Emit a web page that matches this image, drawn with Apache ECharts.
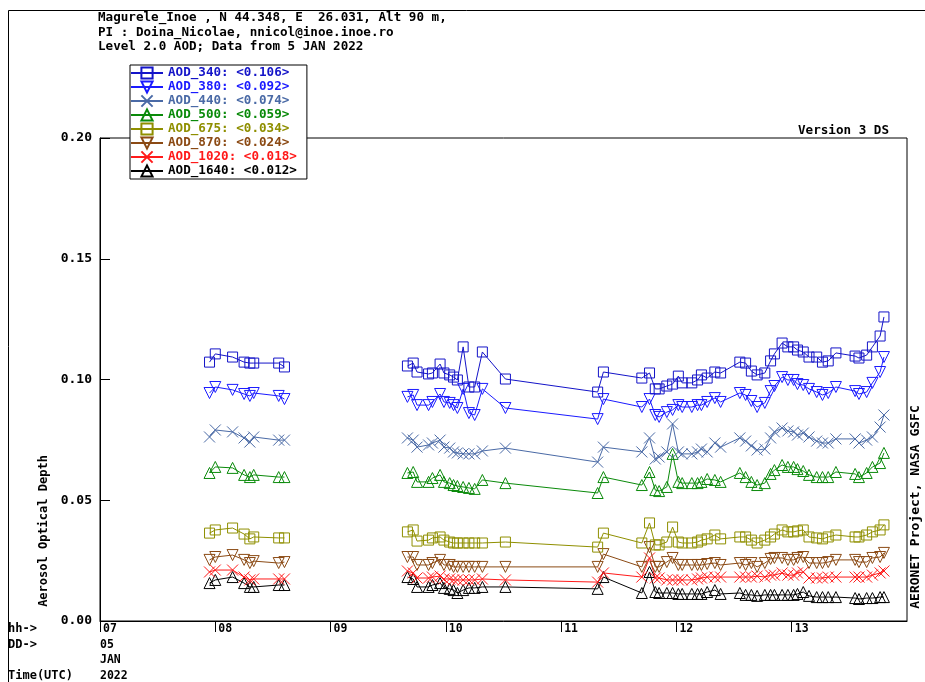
<!DOCTYPE html>
<html><head><meta charset="utf-8">
<script src="https://cdn.jsdelivr.net/npm/echarts@6/dist/echarts.min.js"></script>
<style>html,body{margin:0;padding:0;background:#fff}#c{width:925px;height:682px}</style>
</head><body><div id="c"></div>
<script>
// Measurement times (UTC, 5 JAN 2022)
const times = [
 "07:57","08:00","08:09","08:15","08:18","08:20","08:33","08:36",
 "09:40","09:43","09:45","09:51","09:53","09:57","09:59","10:02","10:04","10:06","10:09","10:12","10:15","10:19","10:31","11:19","11:22",
 "11:42","11:46","11:49","11:51","11:55","11:58","12:01","12:03","12:08","12:11","12:13","12:16","12:20","12:23","12:33","12:36","12:39","12:42","12:46","12:49","12:51","12:55","12:58","13:01","13:03","13:06","13:09","13:13","13:16","13:19","13:23","13:33","13:35","13:39","13:42","13:46","13:48"
];
const aod340 = [
 0.1072,0.1106,0.1093,0.1072,0.1068,0.1068,0.1068,0.1052,
 0.1056,0.1068,0.1031,0.1023,0.1027,0.1064,0.1027,0.1019,0.1010,0.0998,0.1135,0.0969,0.0969,0.1114,0.1002,0.0948,0.1031,
 0.1006,0.1027,0.0961,0.0961,0.0973,0.0981,0.1014,0.0986,0.0986,0.0998,0.1019,0.1006,0.1031,0.1027,0.1072,0.1068,0.1035,0.1019,0.1027,0.1077,0.1106,0.1151,0.1135,0.1135,0.1122,0.1114,0.1093,0.1093,0.1072,0.1077,0.1110,0.1097,0.1089,0.1101,0.1135,0.1180,0.1259
];
const aod380 = [
 0.0944,0.0969,0.0957,0.0940,0.0932,0.0944,0.0932,0.0919,
 0.0928,0.0936,0.0894,0.0894,0.0907,0.0940,0.0907,0.0903,0.0894,0.0882,0.0961,0.0861,0.0853,0.0961,0.0882,0.0836,0.0919,
 0.0886,0.0919,0.0853,0.0845,0.0865,0.0874,0.0894,0.0886,0.0886,0.0894,0.0894,0.0907,0.0923,0.0907,0.0944,0.0936,0.0911,0.0886,0.0903,0.0952,0.0973,0.1010,0.0998,0.0998,0.0981,0.0977,0.0961,0.0948,0.0936,0.0944,0.0969,0.0952,0.0940,0.0948,0.0986,0.1031,0.1093
];
const aod440 = [
 0.0762,0.0791,0.0783,0.0758,0.0741,0.0762,0.0749,0.0749,
 0.0758,0.0749,0.0720,0.0729,0.0737,0.0749,0.0720,0.0716,0.0700,0.0696,0.0692,0.0692,0.0692,0.0704,0.0716,0.0658,0.0720,
 0.0700,0.0758,0.0671,0.0679,0.0700,0.0816,0.0700,0.0692,0.0692,0.0700,0.0712,0.0700,0.0737,0.0720,0.0758,0.0745,0.0725,0.0708,0.0712,0.0758,0.0783,0.0799,0.0787,0.0783,0.0770,0.0778,0.0762,0.0745,0.0737,0.0737,0.0754,0.0754,0.0737,0.0749,0.0762,0.0803,0.0853
];
const aod500 = [
 0.0613,0.0638,0.0634,0.0605,0.0596,0.0605,0.0596,0.0596,
 0.0613,0.0617,0.0576,0.0576,0.0592,0.0605,0.0576,0.0571,0.0563,0.0559,0.0555,0.0551,0.0547,0.0584,0.0571,0.0530,0.0596,
 0.0563,0.0617,0.0542,0.0538,0.0555,0.0692,0.0576,0.0571,0.0571,0.0571,0.0576,0.0588,0.0584,0.0576,0.0613,0.0596,0.0576,0.0563,0.0571,0.0609,0.0625,0.0646,0.0638,0.0638,0.0629,0.0621,0.0605,0.0596,0.0596,0.0596,0.0617,0.0609,0.0596,0.0613,0.0638,0.0654,0.0696
];
const aod675 = [
 0.0364,0.0377,0.0385,0.0360,0.0340,0.0348,0.0344,0.0344,
 0.0369,0.0377,0.0331,0.0335,0.0344,0.0348,0.0335,0.0327,0.0323,0.0323,0.0323,0.0323,0.0323,0.0323,0.0327,0.0306,0.0364,
 0.0323,0.0406,0.0315,0.0315,0.0327,0.0389,0.0327,0.0323,0.0323,0.0327,0.0335,0.0340,0.0356,0.0340,0.0348,0.0348,0.0335,0.0323,0.0335,0.0348,0.0360,0.0377,0.0369,0.0369,0.0373,0.0377,0.0348,0.0344,0.0340,0.0348,0.0356,0.0348,0.0348,0.0356,0.0369,0.0377,0.0398
];
const aod870 = [
 0.0253,0.0265,0.0273,0.0253,0.0240,0.0248,0.0240,0.0244,
 0.0265,0.0265,0.0232,0.0232,0.0240,0.0253,0.0232,0.0232,0.0224,0.0224,0.0224,0.0224,0.0224,0.0224,0.0224,0.0224,0.0277,
 0.0224,0.0306,0.0224,0.0224,0.0244,0.0261,0.0232,0.0232,0.0232,0.0232,0.0232,0.0236,0.0240,0.0232,0.0240,0.0232,0.0240,0.0224,0.0240,0.0257,0.0261,0.0261,0.0253,0.0253,0.0261,0.0265,0.0240,0.0240,0.0240,0.0244,0.0253,0.0253,0.0244,0.0244,0.0261,0.0265,0.0282
];
const aod1020 = [
 0.0203,0.0211,0.0211,0.0182,0.0170,0.0174,0.0174,0.0174,
 0.0207,0.0199,0.0178,0.0178,0.0182,0.0186,0.0174,0.0174,0.0170,0.0170,0.0170,0.0170,0.0170,0.0174,0.0170,0.0161,0.0199,
 0.0182,0.0261,0.0178,0.0178,0.0170,0.0170,0.0170,0.0170,0.0170,0.0174,0.0178,0.0182,0.0182,0.0182,0.0182,0.0182,0.0182,0.0186,0.0182,0.0190,0.0190,0.0199,0.0190,0.0190,0.0199,0.0203,0.0178,0.0178,0.0178,0.0182,0.0182,0.0182,0.0182,0.0182,0.0190,0.0199,0.0207
];
const aod1640 = [
 0.0157,0.0170,0.0182,0.0157,0.0141,0.0141,0.0149,0.0149,
 0.0182,0.0174,0.0141,0.0141,0.0149,0.0157,0.0137,0.0133,0.0128,0.0116,0.0128,0.0137,0.0137,0.0141,0.0141,0.0133,0.0182,
 0.0116,0.0203,0.0120,0.0116,0.0116,0.0116,0.0112,0.0112,0.0112,0.0112,0.0112,0.0120,0.0128,0.0112,0.0116,0.0108,0.0108,0.0104,0.0108,0.0108,0.0108,0.0108,0.0108,0.0108,0.0112,0.0120,0.0104,0.0099,0.0099,0.0099,0.0099,0.0095,0.0091,0.0095,0.0095,0.0099,0.0099
];
const seriesNames = ["AOD_340","AOD_380","AOD_440","AOD_500","AOD_675","AOD_870","AOD_1020","AOD_1640"];
const seriesMeans = ["0.106","0.092","0.074","0.059","0.034","0.024","0.018","0.012"];
const seriesValues = [aod340, aod380, aod440, aod500, aod675, aod870, aod1020, aod1640];
const seriesColors = ["#1414c8","#1a1aff","#4a6aa6","#0a8a0a","#8f8f00","#8b4a14","#ff1a1a","#000000"];
const DOWN_TRI = 'path://M0,0L10,0L5,10Z';
const XMARK = 'path://M0,0L10,10M10,0L0,10';
const seriesSymbols = ['rect', DOWN_TRI, XMARK, 'triangle', 'rect', DOWN_TRI, XMARK, 'triangle'];
const yTicks = [0, 0.05, 0.10, 0.15, 0.20];
const xHours = ["07","08","09","10","11","12","13"];

function toHour(s){ const p = s.split(':'); return +p[0] + (+p[1])/60; }

const FONT = 'DejaVu Sans Mono';
const chart = echarts.init(document.getElementById('c'), null, {renderer:'canvas'});

const series = seriesNames.map((name, i) => {
  const data = [];
  times.forEach((t, k) => {
    const h = toHour(t);
    if (k > 0 && h - toHour(times[k-1]) > 1) data.push([h, null]);
    data.push([h, seriesValues[i][k]]);
  });
  return {
    name, type: 'line', data,
    connectNulls: false,
    symbol: seriesSymbols[i],
    symbolSize: seriesSymbols[i] === 'rect' ? 10 : 11,
    showAllSymbol: true,
    lineStyle: {color: seriesColors[i], width: 1},
    itemStyle: {color: 'rgba(255,255,255,0)', borderColor: seriesColors[i], borderWidth: 1},
    emphasis: {disabled: true},
    z: 10 - i
  };
});

const txt = (text, x, y, extra) => Object.assign({
  type: 'text', x, y,
  style: Object.assign({text, fill: '#000', font: 'bold 12.6px ' + FONT, textVerticalAlign: 'middle'}, extra || {})
}, {});

chart.setOption({
  animation: false,
  backgroundColor: '#fff',
  grid: {left: 100, right: 18, top: 138, bottom: 61, show: true, borderColor: '#000', borderWidth: 1, backgroundColor: 'transparent'},
  xAxis: {
    type: 'value', min: 7, max: 14, interval: 1,
    axisLine: {show: true, lineStyle: {color: '#000', width: 1}},
    axisTick: {show: true, inside: false, length: 11, lineStyle: {color: '#000'}},
    splitLine: {show: false},
    axisLabel: {
      show: true, align: 'left', verticalAlign: 'top', margin: 2, padding: [0,0,0,3],
      color: '#000', fontFamily: FONT, fontWeight: 'bold', fontSize: 11.5,
      showMaxLabel: false,
      formatter: v => { const i = Math.round(v) - 7; return xHours[i] !== undefined ? xHours[i] : ''; }
    }
  },
  yAxis: {
    type: 'value', min: 0, max: 0.2, interval: 0.05,
    axisLine: {show: true, lineStyle: {color: '#000', width: 1}},
    axisTick: {show: true, inside: true, length: 10, lineStyle: {color: '#000'}},
    splitLine: {show: false},
    axisLabel: {
      color: '#000', fontFamily: FONT, fontWeight: 'bold', fontSize: 13, margin: 8,
      formatter: v => { const t = yTicks.find(q => Math.abs(q - v) < 1e-9); return (t !== undefined ? t : v).toFixed(2); }
    }
  },
  legend: {
    left: 130, top: 65, orient: 'vertical',
    itemWidth: 32, itemHeight: 14, itemGap: 0,
    padding: [1, 10, 1, 0],
    borderColor: '#000', borderWidth: 1, backgroundColor: '#fff',
    selectedMode: false,
    data: seriesNames.map((n, i) => ({name: n, textStyle: {color: seriesColors[i]}})),
    formatter: n => n + ': <' + seriesMeans[seriesNames.indexOf(n)] + '>',
    textStyle: {fontFamily: FONT, fontWeight: 'bold', fontSize: 12.6, lineHeight: 14}
  },
  graphic: [
    {type: 'line', shape: {x1: 8.5, y1: 10.5, x2: 925, y2: 10.5}, style: {stroke: '#000', lineWidth: 1}},
    {type: 'line', shape: {x1: 8.5, y1: 10.5, x2: 8.5, y2: 682}, style: {stroke: '#000', lineWidth: 1}},
    txt('Magurele_Inoe , N 44.348, E  26.031, Alt 90 m,', 98, 18),
    txt('PI : Doina_Nicolae, nnicol@inoe.inoe.ro', 98, 33),
    txt('Level 2.0 AOD; Data from 5 JAN 2022', 98, 47),
    txt('Version 3 DS', 889, 131, {textAlign: 'right'}),
    {type: 'text', x: 44, y: 531, rotation: Math.PI/2,
     style: {text: 'Aerosol Optical Depth', fill: '#000', font: 'bold 12px ' + FONT, textAlign: 'center', textVerticalAlign: 'middle'}},
    {type: 'text', x: 916, y: 507, rotation: Math.PI/2,
     style: {text: 'AERONET Project, NASA GSFC', fill: '#000', font: 'bold 13px ' + FONT, textAlign: 'center', textVerticalAlign: 'middle'}},
    txt('hh->', 8, 629, {font: 'bold 12px ' + FONT}),
    txt('DD->', 8, 645, {font: 'bold 12px ' + FONT}),
    txt('Time(UTC)', 8, 676, {font: 'bold 12px ' + FONT}),
    txt('05', 100, 645, {font: 'bold 11.5px ' + FONT}),
    txt('JAN', 100, 660, {font: 'bold 11.5px ' + FONT}),
    txt('2022', 100, 676, {font: 'bold 11.5px ' + FONT})
  ],
  series
});
</script>
</body></html>
